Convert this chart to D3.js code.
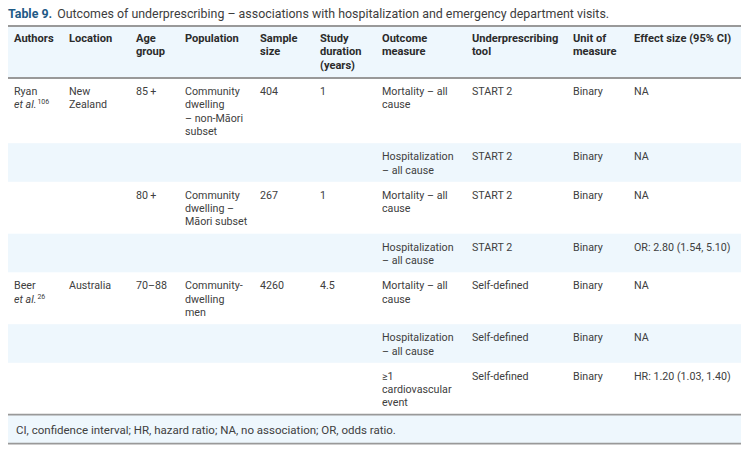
<!DOCTYPE html>
<html>
<head>
<meta charset="utf-8">
<script src="https://cdn.jsdelivr.net/npm/d3@7"></script>
<style>
  html, body { margin: 0; padding: 0; background: #fff; }
  svg { display: block; }
</style>
</head>
<body>
<svg id="chart" width="755" height="453"></svg>
<script>
// ---- Data ----
const titleLabel = "Table 9.";
const titleText = "Outcomes of underprescribing – associations with hospitalization and emergency department visits.";
const columnKeys = ["authors","location","age","population","sample","duration","outcome","tool","unit","effect"];
const columnHeaders = [
  ["Authors"], ["Location"], ["Age","group"], ["Population"], ["Sample","size"],
  ["Study","duration","(years)"], ["Outcome","measure"], ["Underprescribing","tool"],
  ["Unit of","measure"], ["Effect size (95% CI)"]
];
const authors = [
  [["Ryan"], ["*et al.", "106"]], [], [], [],
  [["Beer"], ["*et al.", "26"]], [], []
];
const locations = [["New","Zealand"], [], [], [], ["Australia"], [], []];
const ageGroups = [["85\u2009+"], [], ["80\u2009+"], [], ["70–88"], [], []];
const populations = [
  ["Community","dwelling","– non-Māori","subset"], [],
  ["Community","dwelling –","Māori subset"], [],
  ["Community-","dwelling","men"], [], []
];
const sampleSizes = [["404"], [], ["267"], [], ["4260"], [], []];
const durations = [["1"], [], ["1"], [], ["4.5"], [], []];
const outcomes = [
  ["Mortality – all","cause"], ["Hospitalization","– all cause"],
  ["Mortality – all","cause"], ["Hospitalization","– all cause"],
  ["Mortality – all","cause"], ["Hospitalization","– all cause"],
  ["≥1","cardiovascular","event"]
];
const tools = [["START 2"],["START 2"],["START 2"],["START 2"],["Self-defined"],["Self-defined"],["Self-defined"]];
const units = [["Binary"],["Binary"],["Binary"],["Binary"],["Binary"],["Binary"],["Binary"]];
const effects = [["NA"],["NA"],["NA"],["OR: 2.80 (1.54, 5.10)"],["NA"],["NA"],["HR: 1.20 (1.03, 1.40)"]];
const footnote = "CI, confidence interval; HR, hazard ratio; NA, no association; OR, odds ratio.";

// ---- Layout ----
const FONT = "Roboto, 'Noto Sans', sans-serif";
const tableLeft = 8, tableRight = 741;
const colX = d3.scaleOrdinal().domain(columnKeys)
  .range([14, 69, 136, 185, 260, 320, 382, 472, 573, 634]);
const lineH = 13.3;
const fs = 10.7;
const headFs = 11.1;
const textColor = "#404040";
const headColor = "#2b2b2b";
const bandColor = "#eef7fd";
const ruleColor = "#999999";

const cols = [authors, locations, ageGroups, populations, sampleSizes, durations, outcomes, tools, units, effects];
const nRows = outcomes.length;
const rows = d3.range(nRows).map(i => {
  const cells = cols.map(c => c[i]);
  const n = d3.max(cells, c => c.length) || 1;
  return { i, cells, lines: n };
});

const svg = d3.select("#chart");

// title
const title = svg.append("text").attr("x", 8).attr("y", 17.5)
  .attr("font-family", FONT).attr("font-size", 12.4);
title.append("tspan").attr("font-weight", 700).attr("fill", "#1f5a86").text(titleLabel);
title.append("tspan").attr("dx", 5).attr("fill", "#3d3d3d").text(titleText);

// header
const headTop = 26, headBottom = 78;
svg.append("rect").attr("x", tableLeft).attr("y", headTop).attr("width", tableRight - tableLeft)
  .attr("height", headBottom - headTop).attr("fill", bandColor);

const headG = svg.append("g");
columnHeaders.forEach((lines, j) => {
  const t = headG.append("text").attr("font-family", FONT).attr("font-size", headFs)
    .attr("font-weight", 700).attr("fill", headColor);
  lines.forEach((ln, k) => {
    t.append("tspan").attr("x", colX(columnKeys[j])).attr("y", headTop + 16 + k * lineH).text(ln);
  });
});

// body rows
let y = headBottom;
rows.forEach(r => { r.top = y; r.h = r.lines * lineH + 12; y += r.h; });
const bodyBottom = y;

svg.selectAll("rect.band").data(rows.filter(r => r.i % 2 === 1)).join("rect")
  .attr("class", "band").attr("x", tableLeft).attr("width", tableRight - tableLeft)
  .attr("y", r => r.top).attr("height", r => r.h).attr("fill", bandColor);

rows.forEach(r => {
  r.cells.forEach((cell, j) => {
    if (!cell || !cell.length) return;
    const t = svg.append("text").attr("font-family", FONT).attr("font-size", fs).attr("fill", textColor);
    cell.forEach((ln, k) => {
      const yy = r.top + 17 + k * lineH;
      if (Array.isArray(ln)) {
        const txt = ln[0];
        const italic = txt.startsWith("*");
        const ts = t.append("tspan").attr("x", colX(columnKeys[j])).attr("y", yy)
          .text(italic ? txt.slice(1) : txt);
        if (italic) ts.attr("font-style", "italic");
        if (ln[1]) {
          t.append("tspan").attr("dx", 1).attr("dy", -4).attr("font-size", 7).text(ln[1]);
        }
      } else {
        t.append("tspan").attr("x", colX(columnKeys[j])).attr("y", yy).text(ln);
      }
    });
  });
});

// footer
const footTop = bodyBottom, footBottom = footTop + 29;
svg.append("rect").attr("x", tableLeft).attr("y", footTop).attr("width", tableRight - tableLeft)
  .attr("height", footBottom - footTop).attr("fill", bandColor);
svg.append("text").attr("x", 16).attr("y", footTop + 19.5).attr("font-family", FONT)
  .attr("font-size", 11.5).attr("fill", textColor).text(footnote);

// rules
[headTop, headBottom, footTop, footBottom].forEach(yy => {
  svg.append("line").attr("x1", tableLeft).attr("x2", tableRight)
    .attr("y1", yy).attr("y2", yy).attr("stroke", ruleColor).attr("stroke-width", 1.8);
});
</script>
</body>
</html>
